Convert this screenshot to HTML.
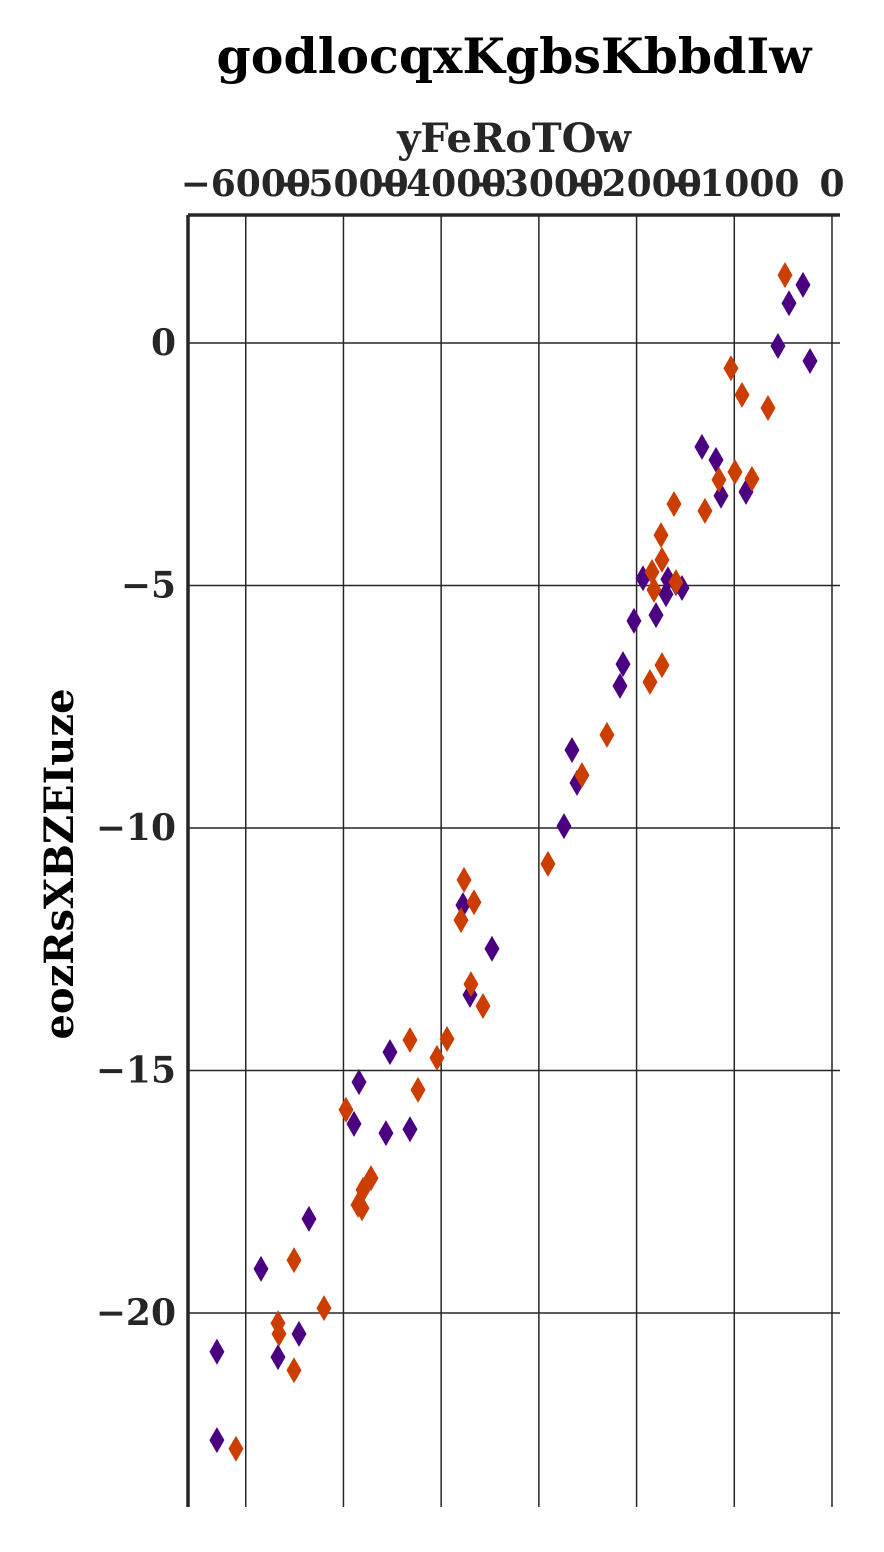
<!DOCTYPE html>
<html><head><meta charset="utf-8"><style>
body{margin:0;background:#fff}
svg text{font-family:"DejaVu Serif","Liberation Serif",serif;font-weight:bold;fill:#262626}
</style></head><body>
<svg id="chart" width="884" height="1547" xmlns="http://www.w3.org/2000/svg">
<text x="514" y="73" font-size="49" text-anchor="middle" style="fill:#000">godlocqxKgbsKbbdIw</text>
<text x="514" y="152" font-size="40" text-anchor="middle">yFeRoTOw</text>
<text x="0" y="0" font-size="40" text-anchor="middle" transform="translate(73,864) rotate(-90)" style="fill:#000">eozRsXBZEIuze</text>
<g id="grid"></g><g id="marks"></g><g id="axes"></g>
</svg>
<script>
const xTicks=[-6000,-5000,-4000,-3000,-2000,-1000,0];
const xTickLabels=["−6000","−5000","−4000","−3000","−2000","−1000","0"];
const yTicks=[0,-5,-10,-15,-20];
const yTickLabels=["0","−5","−10","−15","−20"];
const purpleX=[-6295,-6295,-5844,-5670,-5455,-5353,-4892,-4841,-4565,-4524,-4319,-3777,-3705,-3480,-2743,-2661,-2610,-2170,-2139,-2027,-1934,-1801,-1699,-1679,-1597,-1535,-1331,-1187,-1136,-880,-553,-440,-297,-225];
const purpleY=[-20.80,-22.62,-19.09,-20.91,-20.43,-18.06,-16.10,-15.24,-16.29,-14.62,-16.21,-11.59,-13.44,-12.49,-9.96,-8.39,-9.07,-7.07,-6.62,-5.73,-4.85,-5.61,-5.18,-4.87,-4.95,-5.05,-2.14,-2.41,-3.15,-3.07,-0.06,0.82,1.20,-0.37];
const orangeX=[-6100,-5670,-5660,-5506,-5506,-5199,-4974,-4851,-4810,-4800,-4718,-4319,-4237,-4043,-3940,-3797,-3766,-3695,-3664,-3572,-2907,-2559,-2303,-1863,-1842,-1822,-1750,-1740,-1740,-1617,-1597,-1300,-1157,-1034,-993,-921,-819,-655,-481];
const orangeY=[-22.80,-20.21,-20.43,-21.18,-18.91,-19.90,-15.81,-17.77,-17.84,-17.46,-17.22,-14.37,-15.40,-14.74,-14.35,-11.90,-11.07,-13.22,-11.53,-13.67,-10.74,-8.91,-8.08,-6.99,-4.72,-5.09,-3.96,-4.47,-6.64,-3.32,-4.93,-3.46,-2.82,-0.52,-2.66,-1.07,-2.80,-1.34,1.40];
const L=188,R=840,T=215,B=1507;
const x0=-6591,x1=82,y0=-24.0,y1=2.64;
const sx=v=>L+(v-x0)/(x1-x0)*(R-L);
const sy=v=>B-(v-y0)/(y1-y0)*(B-T);
const NS="http://www.w3.org/2000/svg";
function mk(tag,attrs,parent){const e=document.createElementNS(NS,tag);for(const k in attrs)e.setAttribute(k,attrs[k]);parent.appendChild(e);return e;}
const grid=document.getElementById('grid'),marks=document.getElementById('marks'),axes=document.getElementById('axes');
xTicks.forEach((t,i)=>{
 const l=mk('line',{x1:sx(t),x2:sx(t),y1:T,y2:B,stroke:'#262626','stroke-width':1.5},grid);
 
 
 const tx=mk('text',{x:sx(t),y:196,'font-size':36,'text-anchor':'middle'},axes);
 tx.textContent=xTickLabels[i];
 
 
});
yTicks.forEach((t,i)=>{
 const l=mk('line',{x1:L,x2:R,y1:sy(t),y2:sy(t),stroke:'#262626','stroke-width':1.5},grid);
 
 
 const tx=mk('text',{x:176,y:sy(t)+12,'font-size':36,'text-anchor':'end'},axes);
 tx.textContent=yTickLabels[i];
 
 
});
function diamonds(xs,ys,color,name){
 xs.forEach((v,i)=>{
  const cx=sx(v),cy=sy(ys[i]);
  const p=mk('polygon',{points:`${cx},${cy-13} ${cx+7.5},${cy} ${cx},${cy+13} ${cx-7.5},${cy}`,fill:color},marks);
  
  
 });
}
diamonds(purpleX,purpleY,'#4b0082','purple-point');
diamonds(orangeX,orangeY,'#cc3d00','orange-point');
const ls=mk('line',{x1:L,x2:L,y1:T,y2:B,stroke:'#262626','stroke-width':3.5},axes);


const ts=mk('line',{x1:L,x2:R,y1:T,y2:T,stroke:'#262626','stroke-width':3.5},axes);


</script>
</body></html>
